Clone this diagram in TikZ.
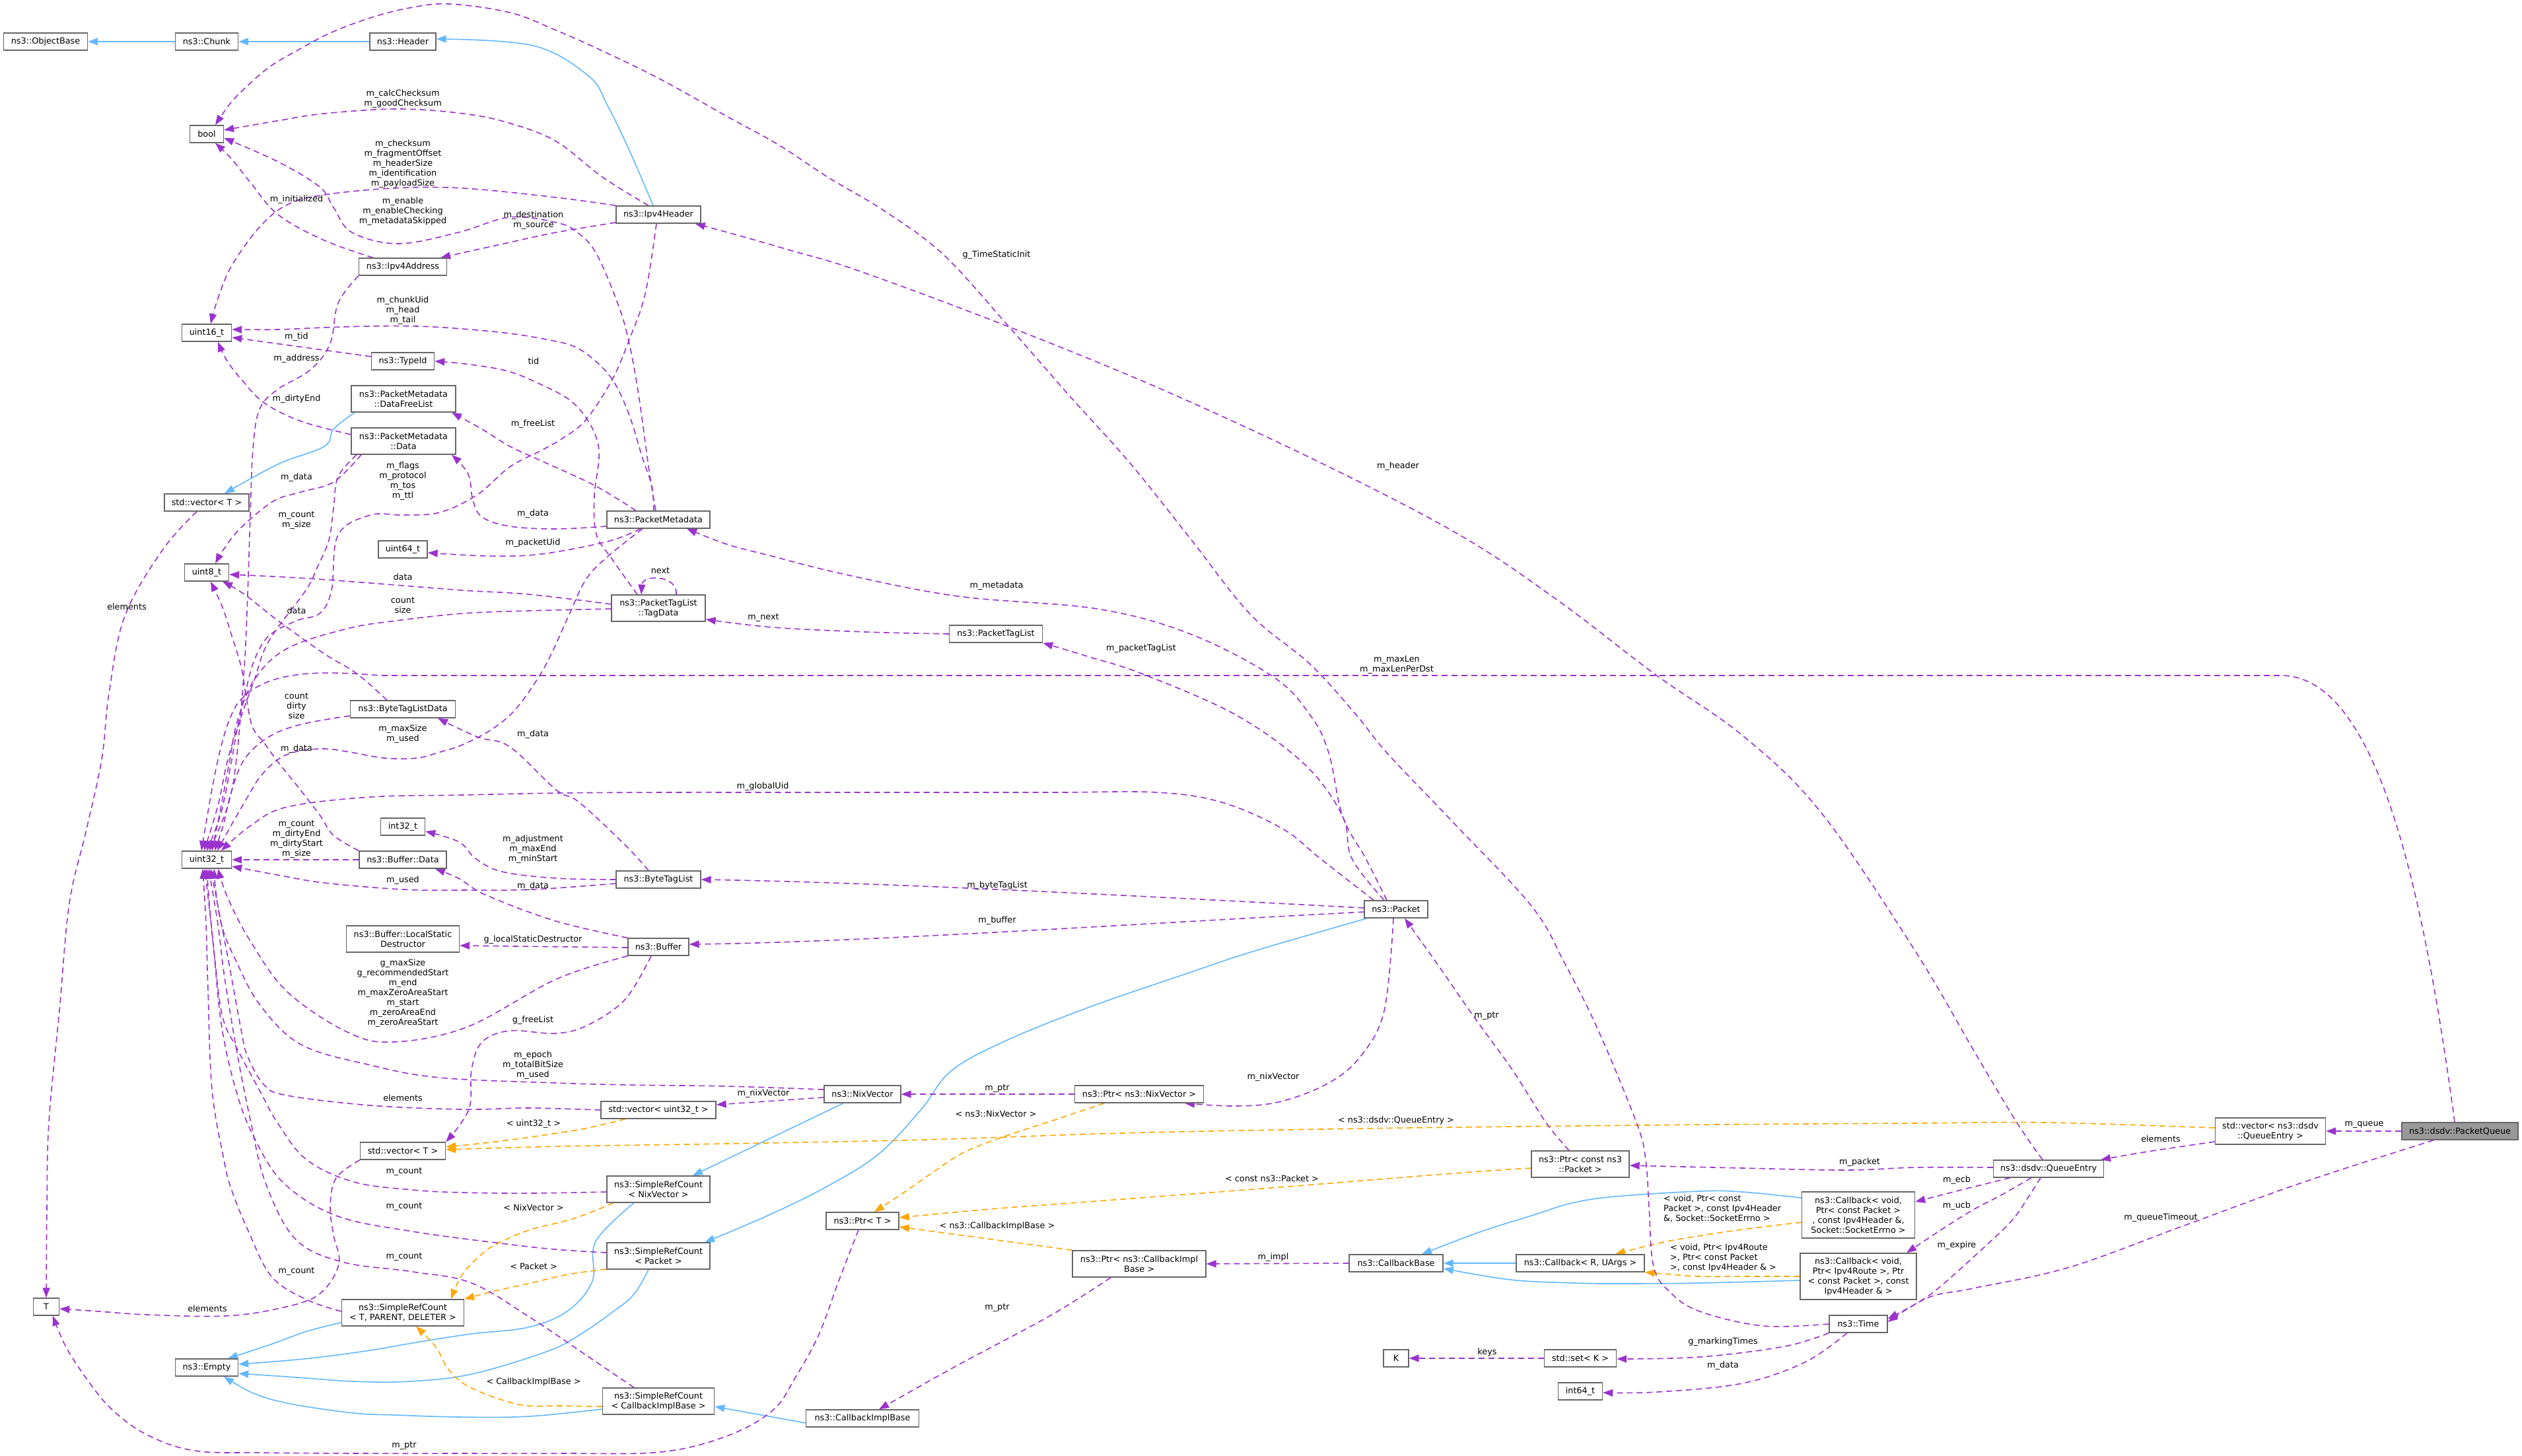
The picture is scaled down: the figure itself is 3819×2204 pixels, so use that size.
\documentclass[tikz,border=0pt]{standalone}
\usepackage{fontspec}
\setmainfont{DejaVu Sans}
\usetikzlibrary{arrows.meta}
\definecolor{purp}{HTML}{9A32CD}
\definecolor{sblue}{HTML}{63B8FF}
\definecolor{orng}{HTML}{FFA500}
\definecolor{boxgray}{HTML}{666666}
\definecolor{pqfill}{HTML}{999999}
\newcommand{\dgfont}{\fontsize{12.8}{15}\selectfont}
\pgfdeclarelayer{bgl}
\pgfdeclarelayer{edges}
\pgfsetlayers{bgl,edges,main}
\begin{document}
\begin{tikzpicture}[x=1pt,y=-1pt,
 box/.style={draw=boxgray, line width=1.4pt, fill=white, minimum height=26pt, inner xsep=3pt, inner ysep=2pt, align=center, font=\dgfont},
 lbl/.style={inner sep=0pt, align=center, font=\dgfont},
 arrowend/.style={-{Triangle[length=15pt,width=11pt]}},
 mem/.style={draw=purp, line width=1.6pt, dash pattern=on 9pt off 6pt, arrowend},
 inh/.style={draw=sblue, line width=1.6pt, arrowend},
 tmpl/.style={draw=orng, line width=1.6pt, dash pattern=on 9pt off 6pt, arrowend},
 sm/.style={smooth, tension=0.6}]
\useasboundingbox (0,0) rectangle (3819,2204);
\begin{pgfonlayer}{bgl}
\fill[white] (0,0) rectangle (3819,2204);
\end{pgfonlayer}

% ---------------- nodes ----------------
\node[box, minimum width=127pt] (objbase) at (69,63) {ns3::ObjectBase};
\node[box, minimum width=95pt] (chunk) at (313,63) {ns3::Chunk};
\node[box, minimum width=100pt] (header) at (610,63) {ns3::Header};
\node[box, minimum width=51pt] (bool) at (313,203) {bool};
\node[box, minimum width=128pt] (ipv4h) at (997,325) {ns3::Ipv4Header};
\node[box, minimum width=133pt] (ipv4a) at (610,404) {ns3::Ipv4Address};
\node[box, minimum width=75pt] (u16) at (313,504) {uint16\_t};
\node[box, minimum width=95pt] (typeid) at (610,547) {ns3::TypeId};
\node[box, minimum width=158pt, minimum height=40pt] (dfl) at (611,604) {ns3::PacketMetadata\\::DataFreeList};
\node[box, minimum width=158pt, minimum height=40pt] (pmdata) at (611,668) {ns3::PacketMetadata\\::Data};
\node[box, minimum width=128pt] (vecT1) at (313,761) {std::vector< T >};
\node[box, minimum width=156pt] (pm) at (997,787) {ns3::PacketMetadata};
\node[box, minimum width=74pt] (u64) at (610,832) {uint64\_t};
\node[box, minimum width=67pt] (u8) at (313,867) {uint8\_t};
\node[box, minimum width=142pt, minimum height=40pt] (tagdata) at (997,921) {ns3::PacketTagList\\::TagData};
\node[box, minimum width=141pt] (ptl) at (1508,960) {ns3::PacketTagList};
\node[box, minimum width=159pt] (btld) at (610,1074) {ns3::ByteTagListData};
\node[box, minimum width=67pt] (i32) at (610,1252) {int32\_t};
\node[box, minimum width=75pt] (u32) at (313,1302) {uint32\_t};
\node[box, minimum width=132pt] (bufdata) at (610,1302) {ns3::Buffer::Data};
\node[box, minimum width=128pt] (btl) at (997,1332) {ns3::ByteTagList};
\node[box, minimum width=171pt, minimum height=40pt] (lsd) at (610,1422) {ns3::Buffer::LocalStatic\\Destructor};
\node[box, minimum width=92pt] (buffer) at (997,1434) {ns3::Buffer};
\node[box, minimum width=96pt] (packet) at (2114,1377) {ns3::Packet};
\node[box, minimum width=116pt] (nixvec) at (1306,1657) {ns3::NixVector};
\node[box, minimum width=174pt] (vecu32) at (997,1681) {std::vector< uint32\_t >};
\node[box, minimum width=195pt] (ptrnix) at (1725,1657) {ns3::Ptr< ns3::NixVector >};
\node[box, minimum width=129pt] (vecT2) at (610,1743) {std::vector< T >};
\node[box, minimum width=156pt, minimum height=40pt] (srcnix) at (997,1801) {ns3::SimpleRefCount\\< NixVector >};
\node[box, minimum width=110pt] (ptrT) at (1306,1849) {ns3::Ptr< T >};
\node[box, minimum width=156pt, minimum height=40pt] (srcpkt) at (997,1902) {ns3::SimpleRefCount\\< Packet >};
\node[box, minimum width=39pt] (T) at (70,1979) {T};
\node[box, minimum width=185pt, minimum height=40pt] (srcT) at (610,1988) {ns3::SimpleRefCount\\< T, PARENT, DELETER >};
\node[box, minimum width=95pt] (empty) at (313,2071) {ns3::Empty};
\node[box, minimum width=169pt, minimum height=40pt] (srccib) at (997,2122) {ns3::SimpleRefCount\\< CallbackImplBase >};
\node[box, minimum width=171pt] (cib) at (1306,2148) {ns3::CallbackImplBase};
\node[box, minimum width=202pt, minimum height=40pt] (ptrcib) at (1725,1914) {ns3::Ptr< ns3::CallbackImpl\\Base >};
\node[box, minimum width=142pt] (cbbase) at (2114,1913) {ns3::CallbackBase};
\node[box, minimum width=38pt] (K) at (2114,2057) {K};
\node[box, minimum width=148pt, minimum height=40pt] (ptrcpkt) at (2393,1763) {ns3::Ptr< const ns3\\::Packet >};
\node[box, minimum width=194pt] (cbRU) at (2393,1913) {ns3::Callback< R, UArgs >};
\node[box, minimum width=109pt] (setK) at (2393,2057) {std::set< K >};
\node[box, minimum width=67pt] (i64) at (2393,2107) {int64\_t};
\node[box, minimum width=171pt, minimum height=70pt] (cb1) at (2814,1840) {ns3::Callback< void,\\Ptr< const Packet >\\, const Ipv4Header \&,\\Socket::SocketErrno >};
\node[box, minimum width=176pt, minimum height=70pt] (cb2) at (2814,1933) {ns3::Callback< void,\\Ptr< Ipv4Route >, Ptr\\< const Packet >, const\\Ipv4Header \& >};
\node[box, minimum width=88pt] (time) at (2814,2005) {ns3::Time};
\node[box, minimum width=167pt] (qe) at (3102,1770) {ns3::dsdv::QueueEntry};
\node[box, minimum width=167pt, minimum height=40pt] (vecqe) at (3438,1713) {std::vector< ns3::dsdv\\::QueueEntry >};
\node[box, minimum width=176pt, fill=pqfill] (pq) at (3725,1713) {ns3::dsdv::PacketQueue};

% ---------------- labels ----------------
\node[lbl] (lA) at (610,150) {m\_calcChecksum\\m\_goodChecksum};
\node[lbl] (lB) at (610,248) {m\_checksum\\m\_fragmentOffset\\m\_headerSize\\m\_identification\\m\_payloadSize};
\node[lbl] (lC) at (610,320) {m\_enable\\m\_enableChecking\\m\_metadataSkipped};
\node[lbl] (lD) at (449,302) {m\_initialized};
\node[lbl] (lE) at (808,334) {m\_destination\\m\_source};
\node[lbl] (lF) at (610,470) {m\_chunkUid\\m\_head\\m\_tail};
\node[lbl] (lG) at (449,510) {m\_tid};
\node[lbl] (lH) at (449,543) {m\_address};
\node[lbl] (lI) at (808,547) {tid};
\node[lbl] (lJ) at (449,604) {m\_dirtyEnd};
\node[lbl] (lK) at (807,642) {m\_freeList};
\node[lbl] (lL) at (449,723) {m\_data};
\node[lbl] (lM) at (610,729) {m\_flags\\m\_protocol\\m\_tos\\m\_ttl};
\node[lbl] (lN) at (807,778) {m\_data};
\node[lbl] (lO) at (449,788) {m\_count\\m\_size};
\node[lbl] (lP) at (807,822) {m\_packetUid};
\node[lbl] (lQ) at (1000,864) {next};
\node[lbl] (lR) at (610,874) {data};
\node[lbl] (lS) at (610,917) {count\\size};
\node[lbl] (lT) at (192,919) {elements};
\node[lbl] (lU) at (449,925) {data};
\node[lbl] (lV) at (1156,935) {m\_next};
\node[lbl] (lW) at (449,1069) {count\\dirty\\size};
\node[lbl] (lX) at (610,1112) {m\_maxSize\\m\_used};
\node[lbl] (lY) at (807,1112) {m\_data};
\node[lbl] (lZ) at (449,1134) {m\_data};
\node[lbl] (la) at (1155,1191) {m\_globalUid};
\node[lbl] (lb) at (449,1271) {m\_count\\m\_dirtyEnd\\m\_dirtyStart\\m\_size};
\node[lbl] (lc) at (807,1286) {m\_adjustment\\m\_maxEnd\\m\_minStart};
\node[lbl] (ld) at (610,1333) {m\_used};
\node[lbl] (le) at (807,1342) {m\_data};
\node[lbl] (lf) at (807,1423) {g\_localStaticDestructor};
\node[lbl] (lg) at (610,1504) {g\_maxSize\\g\_recommendedStart\\m\_end\\m\_maxZeroAreaStart\\m\_start\\m\_zeroAreaEnd\\m\_zeroAreaStart};
\node[lbl] (lh) at (807,1545) {g\_freeList};
\node[lbl] (li) at (807,1613) {m\_epoch\\m\_totalBitSize\\m\_used};
\node[lbl] (lj) at (610,1663) {elements};
\node[lbl] (lk) at (1156,1656) {m\_nixVector};
\node[lbl] (ll) at (808,1702) {< uint32\_t >};
\node[lbl] (lm) at (612,1774) {m\_count};
\node[lbl] (ln) at (808,1829) {< NixVector >};
\node[lbl] (lo) at (612,1827) {m\_count};
\node[lbl] (lp) at (808,1918) {< Packet >};
\node[lbl] (lq) at (612,1903) {m\_count};
\node[lbl] (lr) at (449,1925) {m\_count};
\node[lbl] (ls) at (314,1982) {elements};
\node[lbl] (lt) at (808,2093) {< CallbackImplBase >};
\node[lbl] (lu) at (612,2189) {m\_ptr};
\node[lbl] (lv) at (1509,386) {g\_TimeStaticInit};
\node[lbl] (lw) at (1509,887) {m\_metadata};
\node[lbl] (lx) at (1728,982) {m\_packetTagList};
\node[lbl] (ly) at (1510,1341) {m\_byteTagList};
\node[lbl] (lz) at (1510,1394) {m\_buffer};
\node[lbl] (m1) at (1510,1648) {m\_ptr};
\node[lbl] (m2) at (1508,1687) {< ns3::NixVector >};
\node[lbl] (m3) at (1510,1857) {< ns3::CallbackImplBase >};
\node[lbl] (m4) at (1510,1980) {m\_ptr};
\node[lbl] (m5) at (1928,1631) {m\_nixVector};
\node[lbl] (m6) at (1926,1785) {< const ns3::Packet >};
\node[lbl] (m7) at (1928,1904) {m\_impl};
\node[lbl] (m8) at (2117,706) {m\_header};
\node[lbl] (m9) at (2115,1007) {m\_maxLen\\m\_maxLenPerDst};
\node[lbl] (m10) at (2114,1697) {< ns3::dsdv::QueueEntry >};
\node[lbl] (m11) at (2251,1538) {m\_ptr};
\node[lbl] (m12) at (2252,2048) {keys};
\node[lbl, anchor=west, align=left] (m13) at (2519,1830) {< void, Ptr< const\\Packet >, const Ipv4Header\\\&, Socket::SocketErrno >};
\node[lbl, anchor=west, align=left] (m14) at (2529,1905) {< void, Ptr< Ipv4Route\\>, Ptr< const Packet\\>, const Ipv4Header \& >};
\node[lbl] (m15) at (2609,2032) {g\_markingTimes};
\node[lbl] (m16) at (2609,2068) {m\_data};
\node[lbl] (m17) at (2816,1760) {m\_packet};
\node[lbl] (m18) at (2963,1787) {m\_ecb};
\node[lbl] (m19) at (2963,1826) {m\_ucb};
\node[lbl] (m20) at (2963,1886) {m\_expire};
\node[lbl] (m21) at (3272,1725) {elements};
\node[lbl] (m22) at (3272,1844) {m\_queueTimeout};
\node[lbl] (m23) at (3580,1703) {m\_queue};

% ---------------- edges ----------------
\begin{pgfonlayer}{edges}
% inheritance
\draw[inh] (chunk.west) -- (objbase.east);
\draw[inh] (header.west) -- (chunk.east);
\draw[inh] plot[sm] coordinates {([xshift=-8pt]ipv4h.north) (954,230) (920,160) (891,115) (807,69) ([yshift=4pt]header.east)};
\draw[inh] plot[sm] coordinates {([xshift=-74pt]dfl.south) (505,650) (491,676) (421,703) ([xshift=27pt]vecT1.north)};
\draw[inh] ([xshift=-29pt]nixvec.south) -- ([xshift=52pt]srcnix.north);
\draw[inh] plot[sm] coordinates {([xshift=-44pt]packet.south) (1900,1440) (1801,1473) (1650,1525) (1521,1577) (1440,1622) (1395,1680) (1330,1748) (1250,1798) (1160,1842) ([xshift=70pt]srcpkt.north)};
\draw[inh] plot[sm] coordinates {([yshift=-15pt]srcT.west) (465,2016) (410,2036) ([xshift=32pt]empty.north)};
\draw[inh] plot[sm] coordinates {([xshift=-37pt]srcnix.south) (902,1880) (897,1940) (860,1985) (800,2010) (714,2020) (630,2033) (554,2046) (460,2058) ([yshift=5pt]empty.east)};
\draw[inh] plot[sm] coordinates {([xshift=-15pt]srcpkt.south) (960,1960) (929,1986) (880,2020) (830,2046) (714,2081) (620,2092) (536,2092) (450,2086) ([yshift=-9pt]empty.east)};
\draw[inh] plot[sm] coordinates {([yshift=-12pt]srccib.west) (800,2145) (697,2146) (600,2143) (536,2140) (440,2126) (384,2110) ([xshift=26pt]empty.south)};
\draw[inh] ([yshift=-7pt]cib.west) -- ([yshift=-8pt]srccib.east);
\draw[inh] (cbRU.west) -- (cbbase.east);
\draw[inh] plot[sm] coordinates {([yshift=26pt]cb1.west) (2638,1805) (2574,1804) (2446,1812) (2380,1822) (2319,1841) (2240,1866) ([xshift=39pt]cbbase.north)};
\draw[inh] plot[sm] coordinates {([yshift=-6pt]cb2.west) (2574,1943) (2450,1944) (2383,1943) (2287,1938) ([yshift=-8pt]cbbase.east)};

% templates
\draw[tmpl] plot[sm] coordinates {([xshift=-50pt]vecu32.south) (900,1706) (857,1714) (759,1728) ([yshift=6pt]vecT2.east)};
\draw[tmpl] plot[sm] coordinates {([yshift=5pt]vecqe.west) (3100,1700) (2900,1701) (2600,1703) (2300,1706) (2000,1710) (1700,1716) (1400,1726) (1100,1732) (850,1736) ([yshift=2pt]vecT2.east)};
\draw[tmpl] plot[sm] coordinates {([xshift=-68pt]srcnix.south) (870,1845) (804,1862) (760,1880) (732,1897) (700,1930) ([xshift=73pt]srcT.north)};
\draw[tmpl] plot[sm] coordinates {([yshift=-20pt]srcpkt.west) (860,1930) (804,1943) (750,1955) (srcT.north east)};
\draw[tmpl] plot[sm] coordinates {([yshift=-8pt]srccib.west) (850,2129) (786,2127) (714,2102) (680,2075) (660,2040) ([xshift=20pt]srcT.south)};
\draw[tmpl] plot[sm] coordinates {([xshift=-53pt]ptrnix.south) (1600,1695) (1521,1721) (1460,1745) (1416,1773) (1370,1805) ([xshift=18pt]ptrT.north)};
\draw[tmpl] plot[sm] coordinates {([yshift=-6pt]ptrcpkt.west) (2200,1777) (1950,1797) (1661,1819) (1500,1831) ([yshift=5pt]ptrT.east)};
\draw[tmpl] (ptrcib.north west) -- ([yshift=-9pt]ptrT.east);
\draw[tmpl] plot[sm] coordinates {([yshift=-11pt]cb1.west) (2638,1862) (2570,1872) (2510,1883) ([xshift=53pt]cbRU.north)};
\draw[tmpl] plot[sm] coordinates {(cb2.west) (2650,1933) (2574,1933) (2530,1930) (cbRU.south east)};

% members
\draw[mem] plot[sm] coordinates {([xshift=-15pt]ipv4h.north) (912,268) (842,214) (770,186) (701,172) (603,165) (491,172) (420,183) ([yshift=6pt]bool.east)};
\draw[mem] plot[sm] coordinates {(ipv4h.north west) (842,299) (701,285) (596,285) (491,295) (435,310) (393,344) (351,402) (330,452) ([xshift=6pt]u16.north)};
\draw[mem] plot[sm] coordinates {([xshift=-4pt]pm.north) (983,713) (967,598) (953,521) (937,464) (903,384) (873,351) (842,337) (772,329) (694,352) (603,369) (533,352) (505,314) (484,283) (421,245) ([yshift=-6pt]bool.east)};
\draw[mem] plot[sm] coordinates {([xshift=-7pt]pm.north) (987,736) (973,694) (953,629) (930,579) (903,548) (870,525) (827,514) (772,505) (700,498) (631,494) (560,494) (491,496) (420,499) ([yshift=5pt]u16.east)};
\draw[mem] plot[sm] coordinates {([yshift=-12pt]ipv4h.west) (842,352) (772,367) ([xshift=57pt]ipv4a.north)};
\draw[mem] plot[sm] coordinates {([xshift=-45pt]ipv4a.north) (491,364) (421,325) (379,276) (350,240) ([xshift=13pt]bool.south)};
\draw[mem] plot[sm] coordinates {(ipv4a.south west) (512,459) (500,520) (470,560) (420,590) (393,620) (383,680) (379,780) (375,900) (370,1010) (358,1150) (345,1220) ([xshift=4pt]u32.north)};
\draw[mem] ([yshift=7pt]typeid.west) -- ([yshift=-7pt]u16.east);
\draw[mem] plot[sm] coordinates {([xshift=-32pt]tagdata.north) (927,847) (903,809) (900,751) (907,694) (903,663) (887,632) (863,606) (827,586) (772,563) (712,552) (typeid.east)};
\draw[mem] plot[sm] coordinates {([yshift=10pt]pmdata.west) (456,638) (400,610) (365,574) (343,545) ([xshift=17pt]u16.south)};
\draw[mem] plot[sm] coordinates {([xshift=-34pt]pm.north) (900,735) (820,698) (772,676) (730,650) ([xshift=73pt]dfl.south)};
\draw[mem] plot[sm] coordinates {([yshift=-10pt]pm.west) (842,801) (772,797) (730,783) (716,757) (709,718) ([xshift=73pt]pmdata.south)};
\draw[mem] plot[sm] coordinates {([xshift=-64pt]pmdata.south) (505,730) (456,745) (414,759) (365,799) (340,830) ([xshift=13pt]u8.north)};
\draw[mem] plot[sm] coordinates {([xshift=-71pt]pmdata.south) (512,722) (505,770) (498,818) (480,860) (463,894) (407,971) (385,1030) (365,1086) (345,1150) (330,1220) ([xshift=-4pt]u32.north)};
\draw[mem] plot[sm] coordinates {([xshift=-15pt]vecT1.south) (246,833) (189,933) (165,1050) (154,1150) (130,1260) (105,1368) (90,1530) (74,1700) (71,1830) (T.north)};
\draw[mem] plot[sm] coordinates {([xshift=-27pt]pm.south) (920,820) (820,839) (740,842) ([yshift=-5pt]u64.east)};
\draw[mem] plot[sm] coordinates {([yshift=6pt]tagdata.west) (800,900) (701,894) (561,883) (450,875) ([yshift=-3pt]u8.east)};
\draw[mem] plot[sm] coordinates {([yshift=-1pt]tagdata.west) (800,925) (701,929) (600,940) (526,952) (435,982) (386,1028) (360,1090) (348,1150) (335,1220) ([xshift=8pt]u32.north)};
\draw[mem] ([xshift=27pt]tagdata.north) .. controls (1027,871) and (973,869) .. ([xshift=-26pt]tagdata.north);
\draw[mem] plot[sm] coordinates {(ptl.west) (1310,957) (1170,950) ([yshift=-17pt]tagdata.east)};
\draw[mem] plot[sm] coordinates {([xshift=-24pt]btld.north) (540,1020) (491,990) (421,940) (370,900) ([xshift=24pt]u8.south)};
\draw[mem] plot[sm] coordinates {([yshift=-10pt]btld.west) (456,1097) (407,1116) (370,1150) (350,1200) (338,1250) ([xshift=12pt]u32.north)};
\draw[mem] plot[sm] coordinates {([xshift=-24pt]pm.south) (920,843) (887,878) (860,935) (835,990) (814,1028) (780,1075) (744,1105) (700,1128) (666,1139) (631,1148) (582,1148) (530,1139) (491,1134) (450,1138) (421,1150) (395,1175) (379,1200) (350,1250) ([xshift=16pt]u32.north)};
\draw[mem] plot[sm] coordinates {([xshift=-15pt]btl.north) (947,1280) (877,1215) (842,1196) (772,1131) (723,1116) ([xshift=53pt]btld.south)};
\draw[mem] plot[sm] coordinates {(bufdata.north west) (505,1265) (484,1234) (450,1190) (421,1154) (400,1125) (382,1100) (372,1050) (365,1009) (350,960) (337,920) ([xshift=6pt]u8.south)};
\draw[mem] (bufdata.west) -- (u32.east);
\draw[mem] plot[sm] coordinates {(btl.west) (842,1330) (760,1320) (720,1300) (695,1275) ([yshift=-7pt]i32.east)};
\draw[mem] plot[sm] coordinates {([yshift=-6pt]btl.west) (807,1347) (700,1348) (610,1347) (491,1337) (420,1325) ([yshift=-10pt]u32.east)};
\draw[mem] plot[sm] coordinates {(buffer.north west) (842,1395) (737,1356) (694,1330) ([xshift=49pt]bufdata.south)};
\draw[mem] ([yshift=-1pt]buffer.west) -- ([yshift=-10pt]lsd.east);
\draw[mem] plot[sm] coordinates {(buffer.south west) (842,1483) (708,1555) (596,1578) (526,1563) (435,1502) (379,1425) (345,1360) ([xshift=17pt]u32.south)};
\draw[mem] plot[sm] coordinates {([xshift=-11pt]buffer.south) (947,1513) (891,1552) (842,1565) (772,1561) (730,1578) (714,1620) (710,1680) (vecT2.north east)};
\draw[mem] plot[sm] coordinates {([yshift=7pt]nixvec.west) (1100,1645) (950,1643) (842,1640) (666,1632) (561,1613) (456,1582) (393,1521) (355,1450) (337,1406) (328,1360) ([xshift=11pt]u32.south)};
\draw[mem] plot[sm] coordinates {(vecu32.west) (800,1678) (701,1680) (561,1674) (435,1659) (400,1643) (375,1600) (365,1559) (345,1450) ([xshift=6pt]u32.south)};
\draw[mem] ([yshift=-5pt]nixvec.west) -- ([yshift=8pt]vecu32.east);
\draw[mem] (ptrnix.west) -- (nixvec.east);
\draw[mem] plot[sm] coordinates {([xshift=-4pt]packet.south) (2096,1531) (2060,1600) (2012,1640) (1940,1668) (1872,1675) ([xshift=69pt]ptrnix.south)};
\draw[mem] ([yshift=2pt]packet.west) .. controls (1600,1350) and (1300,1336) .. (btl.east);
\draw[mem] ([yshift=-4pt]packet.west) .. controls (1700,1400) and (1300,1427) .. ([yshift=4pt]buffer.east);
\draw[mem] plot[sm] coordinates {([xshift=-18pt]packet.north) (2047,1300) (2033,1236) (1977,1159) (1872,1083) (1731,1021) (1650,995) (ptl.south east)};
\draw[mem] plot[sm] coordinates {([xshift=-14pt]packet.north) (2068,1300) (2033,1236) (2012,1140) (1984,1083) (1928,1025) (1802,960) (1661,922) (1451,903) (1280,870) (1160,840) (1100,824) ([xshift=43pt]pm.south)};
\draw[mem] plot[sm] coordinates {([xshift=-34pt]packet.north) (1999,1300) (1942,1255) (1850,1215) (1752,1200) (1600,1200) (1400,1200) (1200,1200) (1000,1200) (842,1201) (700,1204) (561,1207) (435,1222) (380,1250) ([xshift=22pt]u32.north)};
\draw[mem] ([xshift=-8pt]pq.north) .. controls (3670,1350) and (3600,1023) .. (3454,1023) -- (575,1023) .. controls (480,1015) and (400,1015) .. (360,1065) .. controls (335,1100) and (320,1200) .. ([xshift=-8pt]u32.north);
\draw[mem] plot[sm] coordinates {([xshift=-9pt]qe.north) (3054,1700) (2994,1600) (2900,1440) (2758,1231) (2640,1115) (2506,1021) (2360,910) (2210,810) (1998,700) (1760,590) (1528,495) (1300,410) (1200,380) (1120,357) ([xshift=-9pt]ipv4h.south east)};
\draw[mem] plot[sm] coordinates {(time.west) (2670,2008) (2574,1986) (2529,1957) (2504,1918) (2497,1827) (2492,1756) (2478,1700) (2420,1560) (2370,1460) (2319,1372) (2200,1245) (2100,1140) (2054,1083) (1984,1006) (1893,930) (1802,815) (1710,700) (1620,600) (1528,495) (1429,386) (1340,320) (1253,268) (1180,220) (1104,178) (1000,120) (912,77) (840,45) (772,19) (680,6) (620,12) (561,27) (500,50) (449,77) (410,100) (379,126) (350,155) ([xshift=13pt]bool.north)};
\draw[mem] plot[sm] coordinates {([xshift=-17pt]ptrcpkt.north) (2341,1700) (2290,1620) (2232,1540) (2180,1465) ([xshift=13pt]packet.south)};
\draw[mem] plot[sm] coordinates {([yshift=2pt]qe.west) (2900,1768) (2797,1772) (2640,1769) ([yshift=-2pt]ptrcpkt.east)};
\draw[mem] plot[sm] coordinates {([xshift=-58pt]qe.south) (2970,1802) ([yshift=20pt]cb1.east)};
\draw[mem] plot[sm] coordinates {([xshift=-26pt]qe.south) (3030,1810) (2988,1832) (2940,1862) ([xshift=73pt]cb2.north)};
\draw[mem] plot[sm] coordinates {([xshift=-12pt]qe.south) (3070,1815) (3046,1849) (3000,1893) (2935,1951) (2900,1975) ([yshift=8pt]time.east)};
\draw[mem] plot[sm] coordinates {([xshift=-40pt]pq.south) (3486,1791) (3310,1855) (3134,1919) (2988,1951) (2920,1965) ([yshift=3pt]time.east)};
\draw[mem] (pq.west) -- (vecqe.east);
\draw[mem] plot[sm] coordinates {([yshift=-16pt]vecqe.west) (3252,1744) ([xshift=79pt]qe.north)};
\draw[mem] (cbbase.west) -- (ptrcib.east);
\draw[mem] plot[sm] coordinates {([xshift=-43pt]ptrcib.south) (1591,1992) (1451,2067) ([xshift=25pt]cib.north)};
\draw[mem] plot[sm] coordinates {([xshift=-6pt]ptrT.south) (1270,1940) (1240,2021) (1205,2085) (1170,2136) (1100,2175) (1000,2199) (850,2201) (700,2201) (550,2201) (400,2200) (295,2197) (223,2173) (170,2135) (134,2092) (100,2040) ([xshift=10pt]T.south)};
\draw[mem] plot[sm] coordinates {(vecT2.south west) (509,1784) (500,1827) (505,1870) (513,1915) (482,1961) (420,1982) (339,1993) (223,1991) (150,1986) ([yshift=-3pt]T.east)};
\draw[mem] plot[sm] coordinates {([yshift=2pt]srcT.west) (464,1968) (411,1933) (375,1862) (350,1800) (339,1756) (321,1650) (315,1500) (312,1400) ([xshift=-6pt]u32.south)};
\draw[mem] plot[sm] coordinates {([yshift=-4pt]srcnix.west) (804,1807) (700,1806) (625,1802) (536,1790) (464,1756) (420,1700) (395,1655) (360,1590) (337,1540) (325,1450) (318,1380) (u32.south)};
\draw[mem] plot[sm] coordinates {([yshift=5pt]srcpkt.west) (840,1892) (759,1883) (625,1865) (509,1841) (429,1791) (384,1721) (357,1650) (335,1550) (322,1420) ([xshift=-3pt]u32.south)};
\draw[mem] plot[sm] coordinates {([xshift=-37pt]srccib.north) (893,2056) (804,1996) (714,1943) (625,1926) (518,1911) (447,1876) (402,1791) (380,1700) (360,1600) (340,1480) (330,1400) ([xshift=3pt]u32.south)};
\draw[mem] plot[sm] coordinates {(time.south west) (2702,2039) (2574,2055) ([yshift=-1pt]setK.east)};
\draw[mem] plot[sm] coordinates {([xshift=-17pt]time.south) (2733,2063) (2638,2095) (2510,2108) ([yshift=-2pt]i64.east)};
\draw[mem] (setK.west) -- (K.east);
\draw[mem] plot[sm] coordinates {([xshift=-3pt]ipv4h.south) (977,445) (953,514) (927,575) (887,636) (853,663) (820,682) (772,707) (723,749) (666,776) (610,780) (561,780) (512,810) (502,894) (484,929) (449,940) (407,963) (385,1000) (372,1047) (360,1100) (351,1150) (335,1230) (u32.north)};
\end{pgfonlayer}
\end{tikzpicture}
\end{document}
